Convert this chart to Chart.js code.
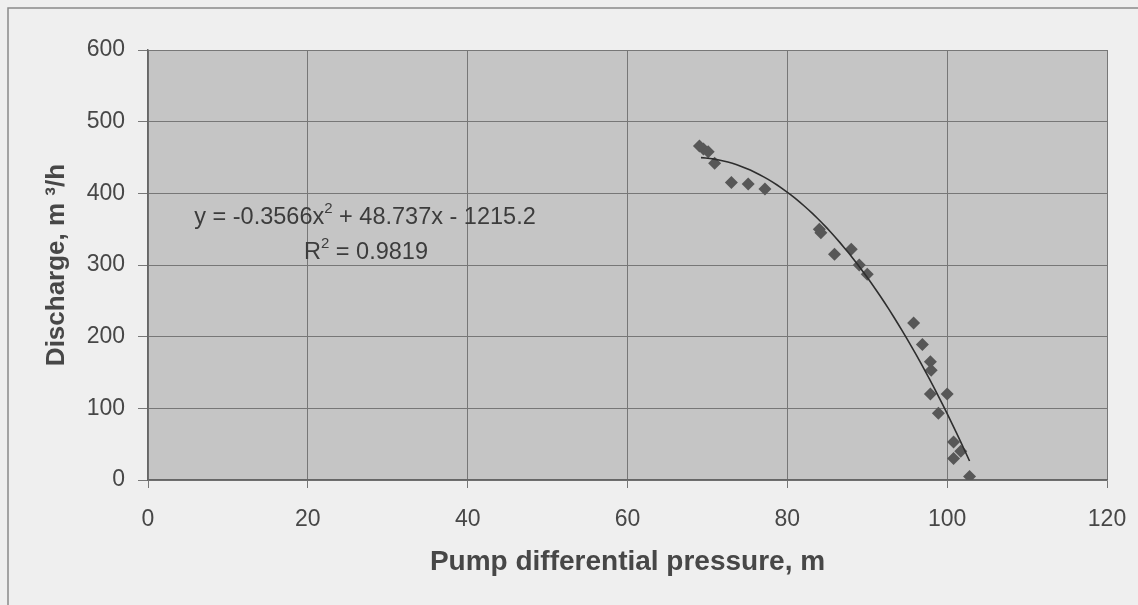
<!DOCTYPE html>
<html>
<head>
<meta charset="utf-8">
<script src="https://cdn.jsdelivr.net/npm/chart.js@4/dist/chart.umd.min.js"></script>
<style>
html,body{margin:0;padding:0;background:#efefef;}
#wrap{position:relative;width:1138px;height:605px;}
canvas{display:block;}
</style>
</head>
<body>
<div id="wrap"><canvas id="c" width="1138" height="605"></canvas></div>
<script>
// Measured points: pump differential pressure (m) vs discharge (m3/h)
const pressure  = [69.0, 69.5, 70.1, 70.9, 73.0, 75.1, 77.2, 84.0, 84.2, 85.9, 88.0, 89.0, 90.0, 95.8, 96.9, 97.9, 98.0, 97.9, 100.0, 98.9, 100.8, 101.7, 100.8, 102.8];
const discharge = [466, 462, 458, 442, 415, 413, 406, 350, 345, 315, 322, 300, 287, 219, 189, 165, 153, 120, 120, 93, 53, 40, 30, 5];
// Polynomial trend line as stated on the chart
const trendCoef = [-0.3566, 48.737, -1215.2];
const trendRange = [69.2, 102.8];
const xTicks = [0, 20, 40, 60, 80, 100, 120];
const yTicks = [0, 100, 200, 300, 400, 500, 600];

const points = pressure.map((x, i) => ({x: x, y: discharge[i]}));
const trend = [];
for (let k = 0; k <= 60; k++) {
  const x = trendRange[0] + (trendRange[1] - trendRange[0]) * k / 60;
  trend.push({x: x, y: trendCoef[0]*x*x + trendCoef[1]*x + trendCoef[2]});
}

const FAM = '"Liberation Sans", Arial, sans-serif';

const bgPlugin = {
  id: 'bg',
  beforeDraw(chart) {
    const {ctx, chartArea: a} = chart;
    ctx.save();
    ctx.fillStyle = '#efefef';
    ctx.fillRect(0, 0, chart.width, chart.height);
    ctx.strokeStyle = '#8a8a8a';
    ctx.lineWidth = 1.5;
    ctx.strokeRect(8, 8, chart.width - 6, chart.height - 7);
    ctx.fillStyle = '#c5c5c5';
    ctx.fillRect(a.left, a.top, a.right - a.left, a.bottom - a.top);
    ctx.restore();
  },
  afterDatasetsDraw(chart) {
    const {ctx} = chart;
    ctx.save();
    ctx.fillStyle = '#3c3c3c';
    ctx.textBaseline = 'middle';
    const f = '23.5px ' + FAM;
    const fs = '15px ' + FAM;
    function runs(parts, cx, cy) {
      let w = 0;
      parts.forEach(p => { ctx.font = p[1] ? fs : f; w += ctx.measureText(p[0]).width; });
      let x = cx - w / 2;
      parts.forEach(p => {
        ctx.font = p[1] ? fs : f;
        ctx.textAlign = 'left';
        ctx.fillText(p[0], x, p[1] ? cy - 9 : cy);
        x += ctx.measureText(p[0]).width;
      });
    }
    runs([['y = -0.3566x', 0], ['2', 1], [' + 48.737x - 1215.2', 0]], 365, 218);
    runs([['R', 0], ['2', 1], [' = 0.9819', 0]], 366, 253);
    ctx.restore();
  }
};

new Chart(document.getElementById('c'), {
  type: 'scatter',
  data: {
    datasets: [
      {
        label: 'Trend',
        data: trend,
        showLine: true,
        pointRadius: 0,
        borderColor: '#2e2e2e',
        borderWidth: 1.6,
        tension: 0,
        order: 1
      },
      {
        label: 'Measured',
        data: points,
        pointStyle: 'rectRot',
        pointRadius: 6.5,
        backgroundColor: '#575757',
        borderColor: '#575757',
        borderWidth: 0,
        order: 2
      }
    ]
  },
  options: {
    responsive: false,
    animation: false,
    layout: {padding: {left: 8, top: 50, right: 31, bottom: 8}},
    plugins: {legend: {display: false}, tooltip: {enabled: false}},
    scales: {
      x: {
        type: 'linear', min: 0, max: 120,
        afterBuildTicks(s) { s.ticks = xTicks.map(v => ({value: v})); },
        afterFit(s) { s.height = 117; s.paddingLeft = 0; s.paddingRight = 0; },
        grid: {color: '#777', lineWidth: 1, drawTicks: true, tickLength: 8, tickColor: '#777'},
        border: {color: '#666', width: 1.5},
        ticks: {color: '#474747', padding: 18, font: {size: 23, family: FAM}},
        title: {display: true, text: 'Pump differential pressure, m', color: '#474747',
          font: {size: 28, weight: 'bold', family: FAM}, padding: {top: 0, bottom: 18}}
      },
      y: {
        type: 'linear', min: 0, max: 600,
        afterBuildTicks(s) { s.ticks = yTicks.map(v => ({value: v})); },
        afterFit(s) { s.width = 140; s.paddingTop = 0; s.paddingBottom = 0; },
        grid: {color: '#777', lineWidth: 1, drawTicks: true, tickLength: 10, tickColor: '#777'},
        border: {color: '#666', width: 1.5},
        ticks: {color: '#474747', padding: 13, font: {size: 23, family: FAM}},
        title: {display: true, text: 'Discharge, m ³/h', color: '#474747',
          font: {size: 26, weight: 'bold', family: FAM}, padding: {top: 33, bottom: 0}}
      }
    }
  },
  plugins: [bgPlugin]
});
</script>
</body>
</html>
